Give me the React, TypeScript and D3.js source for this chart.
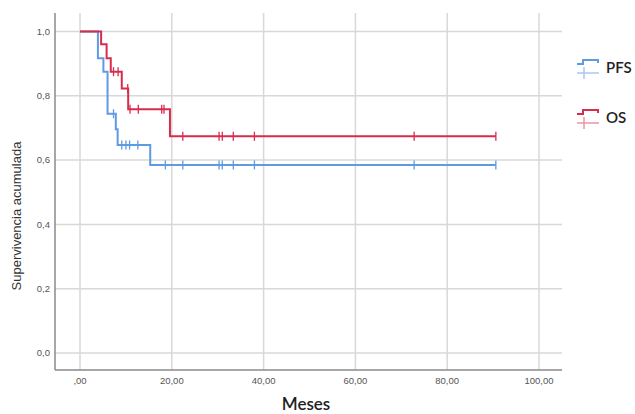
import React from "react";
import * as d3 from "d3";

const xTicks = [0, 20, 40, 60, 80, 100];
const xTickLabels = [",00", "20,00", "40,00", "60,00", "80,00", "100,00"];
const yTicks = [0, 0.2, 0.4, 0.6, 0.8, 1.0];
const yTickLabels = ["0,0", "0,2", "0,4", "0,6", "0,8", "1,0"];

// Kaplan-Meier steps: [time, survival after drop]
const pfsSteps: [number, number][] = [
  [0, 1.0],
  [3.9, 0.917],
  [5.1, 0.875],
  [6.0, 0.744],
  [7.8, 0.696],
  [8.2, 0.647],
  [15.3, 0.585],
];
const pfsCensors = [7.3, 9.1, 10.0, 10.8, 12.6, 18.6, 22.4, 30.3, 31.0, 33.4, 38.0, 72.8, 90.6];
const pfsEnd = 90.6;

const osSteps: [number, number][] = [
  [0, 1.0],
  [4.6, 0.96],
  [5.8, 0.917],
  [6.7, 0.875],
  [9.1, 0.823],
  [10.5, 0.758],
  [19.6, 0.674],
];
const osCensors = [7.3, 8.3, 10.4, 10.9, 12.7, 17.8, 18.3, 22.4, 30.3, 31.0, 33.4, 38.0, 72.8, 90.6];
const osEnd = 90.6;

const seriesNames = ["PFS", "OS"];

const W = 635;
const H = 414;
const left = 55;
const right = 562;
const top = 13;
const bottom = 370;

const x = d3.scaleLinear().domain([0, 100]).range([80, 539]);
const y = d3.scaleLinear().domain([0, 1]).range([353, 31.5]);

const BLUE = "#5f9be2";
const BLUE_LIGHT = "#a9c8f0";
const RED = "#d82c4d";
const RED_LIGHT = "#ec95a6";

function stepValue(steps: [number, number][], t: number) {
  let v = steps[0][1];
  for (const [st, sv] of steps) if (st <= t) v = sv;
  return v;
}

function pathFor(steps: [number, number][], end: number) {
  const pts: [number, number][] = steps.map((s) => [s[0], s[1]]);
  pts.push([end, steps[steps.length - 1][1]]);
  const line = d3
    .line<[number, number]>()
    .x((d) => x(d[0]))
    .y((d) => y(d[1]))
    .curve(d3.curveStepAfter);
  return line(pts) || "";
}

export default function App() {
  const font = "'Liberation Sans', Arial, sans-serif";
  const titleFont = "Lato, 'Open Sans', sans-serif";
  const series = [
    { name: seriesNames[0], steps: pfsSteps, cens: pfsCensors, end: pfsEnd, c: BLUE, lc: BLUE_LIGHT },
    { name: seriesNames[1], steps: osSteps, cens: osCensors, end: osEnd, c: RED, lc: RED_LIGHT },
  ];
  return (
    <svg width={W} height={H} style={{ position: "absolute", left: 0, top: 0, background: "#fff" }}>
      <rect x={0} y={0} width={W} height={H} fill="#fff" />
      {yTicks.map((t) => (
        <line key={"gy" + t} x1={left} x2={right} y1={y(t)} y2={y(t)} stroke="#d8d8d8" strokeWidth={1.5} />
      ))}
      {xTicks.map((t) => (
        <line key={"gx" + t} x1={x(t)} x2={x(t)} y1={top} y2={bottom} stroke="#d8d8d8" strokeWidth={1.5} />
      ))}
      <line x1={left} x2={left} y1={top} y2={bottom} stroke="#8a8a8a" strokeWidth={1.5} />
      <line x1={left} x2={right} y1={bottom} y2={bottom} stroke="#8a8a8a" strokeWidth={1.5} />
      {yTicks.map((t, i) => (
        <text key={"ly" + t} x={50} y={y(t)} dy="0.35em" textAnchor="end" fontSize={9.5} fill="#555" fontFamily={font}>
          {yTickLabels[i]}
        </text>
      ))}
      {xTicks.map((t, i) => (
        <text key={"lx" + t} x={x(t)} y={384} textAnchor="middle" fontSize={9.5} fill="#555" fontFamily={font}>
          {xTickLabels[i]}
        </text>
      ))}
      <text x={306} y={410} textAnchor="middle" fontSize={17} fill="#222" fontFamily={titleFont} fontWeight={600}>
        Meses
      </text>
      <text
        transform={`translate(21,${216}) rotate(-90)`}
        textAnchor="middle"
        fontSize={13}
        fill="#333"
        fontFamily={font}
      >
        Supervivencia acumulada
      </text>
      {series.map((s) => (
        <g key={s.name}>
          <path d={pathFor(s.steps, s.end)} fill="none" stroke={s.c} strokeWidth={2} />
          {s.cens.map((ct, i) => (
            <line
              key={i}
              x1={x(ct)}
              x2={x(ct)}
              y1={y(stepValue(s.steps, ct)) - 4.5}
              y2={y(stepValue(s.steps, ct)) + 4.5}
              stroke={s.c}
              strokeWidth={1.3}
            />
          ))}
        </g>
      ))}
      {series.map((s, i) => {
        const oy = i * 50;
        return (
          <g key={"lg" + s.name}>
            <path
              d={`M577,${64 + oy} H583 V${60 + oy} H598 V${63 + oy}`}
              fill="none"
              stroke={s.c}
              strokeWidth={2}
            />
            <line x1={577} x2={599} y1={73 + oy} y2={73 + oy} stroke={s.lc} strokeWidth={1.5} />
            <line x1={584} x2={584} y1={67 + oy} y2={79 + oy} stroke={s.lc} strokeWidth={1.5} />
            <text x={606} y={73 + oy} fontSize={15} fill="#222" fontFamily={titleFont} fontWeight={600}>
              {s.name}
            </text>
          </g>
        );
      })}
    </svg>
  );
}
